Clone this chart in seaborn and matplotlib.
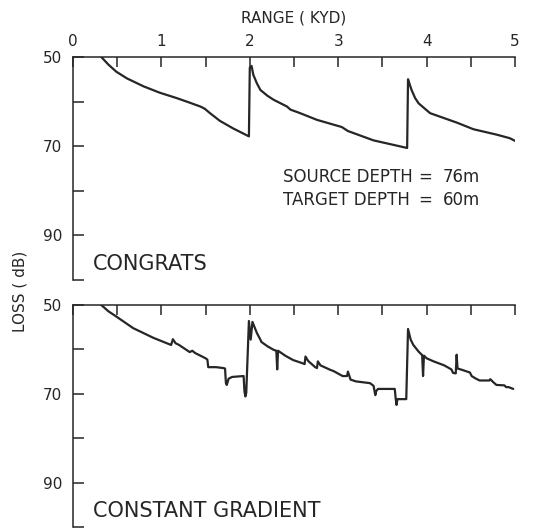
import numpy as np
import pandas as pd
import matplotlib
matplotlib.use("Agg")
import matplotlib.pyplot as plt
import seaborn as sns

# CONGRATS propagation loss vs range
congrats_range = [0.32, 0.40, 0.49, 0.61, 0.80, 0.98, 1.17, 1.30, 1.44, 1.49, 1.55,
                  1.66, 1.81, 1.99, 2.00, 2.02, 2.04, 2.08, 2.12, 2.20, 2.27, 2.42,
                  2.46, 2.57, 2.76, 3.04, 3.11, 3.40, 3.78, 3.79, 3.80, 3.83, 3.87,
                  3.91, 4.04, 4.34, 4.53, 4.79, 4.94, 5.00]
congrats_loss = [50.0, 51.7, 53.3, 54.8, 56.6, 58.0, 59.2, 60.1, 61.1, 61.6, 62.6,
                 64.3, 66.0, 67.8, 52.4, 52.0, 54.0, 55.9, 57.4, 58.7, 59.6, 61.1,
                 61.8, 62.6, 64.1, 65.7, 66.6, 68.7, 70.4, 55.0, 55.6, 57.4, 59.2,
                 60.4, 62.6, 64.7, 66.2, 67.4, 68.2, 68.8]

# constant gradient model
gradient_range = [0.32, 0.40, 0.49, 0.68, 0.91, 1.11, 1.13, 1.16, 1.20, 1.32, 1.35,
                  1.38, 1.50, 1.52, 1.53, 1.62, 1.70, 1.72, 1.73, 1.74, 1.76, 1.80,
                  1.93, 1.94, 1.95, 1.96, 1.99, 2.01, 2.03, 2.08, 2.12, 2.13, 2.20,
                  2.27, 2.30, 2.31, 2.32, 2.40, 2.49, 2.58, 2.62, 2.63, 2.66, 2.74,
                  2.76, 2.77, 2.80, 2.91, 2.95, 3.05, 3.10, 3.11, 3.14, 3.20, 3.36,
                  3.40, 3.42, 3.43, 3.45, 3.64, 3.65, 3.66, 3.67, 3.77, 3.79, 3.82,
                  3.85, 3.91, 3.95, 3.96, 3.97, 4.00, 4.08, 4.20, 4.28, 4.30, 4.33,
                  4.34, 4.35, 4.40, 4.49, 4.51, 4.55, 4.60, 4.71, 4.72, 4.75, 4.79,
                  4.88, 4.90, 4.93, 4.98]
gradient_loss = [50.0, 51.4, 52.6, 55.2, 57.4, 59.0, 57.7, 58.6, 59.0, 60.6, 60.3,
                 60.8, 62.0, 62.3, 64.0, 64.0, 64.2, 64.3, 67.6, 68.0, 66.6, 66.2,
                 66.0, 69.5, 70.6, 69.8, 53.6, 57.8, 53.8, 56.3, 57.8, 58.3, 59.3,
                 60.1, 60.3, 64.5, 60.3, 61.4, 62.4, 63.0, 63.3, 61.6, 62.6, 64.0,
                 64.2, 62.7, 63.6, 64.6, 64.9, 66.0, 66.0, 65.0, 66.8, 67.2, 67.6,
                 68.2, 70.3, 69.4, 68.9, 68.9, 71.0, 72.5, 71.2, 71.2, 55.4, 57.8,
                 59.0, 60.5, 61.3, 66.0, 61.4, 62.0, 62.7, 63.6, 64.5, 65.3, 65.4,
                 61.2, 64.3, 64.6, 65.2, 66.0, 66.5, 67.0, 67.0, 66.7, 67.3, 68.0,
                 68.1, 68.5, 68.5, 68.9]

range_ticks = [0, 1, 2, 3, 4, 5]
loss_ticks = [50, 70, 90]

sns.set_style("white")
plt.rcParams['font.family'] = ['DejaVu Sans']
ink = '#262626'

fig = plt.figure(figsize=(5.34, 5.31), dpi=100)
ax_top = fig.add_axes([0.1367, 0.4727, 0.8277, 0.4200])
ax_bot = fig.add_axes([0.1367, 0.0075, 0.8277, 0.4181])

x_minor = [i / 2 for i in range(11)]
y_all = list(range(50, 101, 10))

panels = [(ax_top, congrats_range, congrats_loss, 'CONGRATS'),
          (ax_bot, gradient_range, gradient_loss, 'CONSTANT GRADIENT')]

for ax, xs, ys, name in panels:
    df = pd.DataFrame({'range': xs, 'loss': ys})
    sns.lineplot(data=df, x='range', y='loss', sort=False, estimator=None,
                 color=ink, linewidth=1.6, ax=ax)
    ax.set_xlim(0, 5)
    ax.set_ylim(100, 50)
    ax.set_xlabel('')
    ax.set_ylabel('')
    for side in ['right', 'bottom']:
        ax.spines[side].set_visible(False)
    for side in ['top', 'left']:
        ax.spines[side].set_color(ink)
        ax.spines[side].set_linewidth(1.1)
    ax.set_xticks(x_minor)
    ax.set_xticklabels([str(int(v)) if v in range_ticks else '' for v in x_minor])
    ax.set_yticks(y_all)
    ax.set_yticklabels([str(v) if v in loss_ticks else '' for v in y_all])
    ax.tick_params(axis='y', direction='in', length=8, width=1.1, color=ink,
                   labelsize=11, labelcolor=ink, pad=8, left=True)
    ax.tick_params(axis='x', direction='in', length=7, width=1.1, color=ink,
                   top=True, bottom=False, labeltop=True, labelbottom=False,
                   labelsize=11, labelcolor=ink, pad=6)
    ax.text(0.045, 0.07, name, transform=ax.transAxes, fontsize=15,
            color=ink, ha='left', va='center')
    ax.patch.set_alpha(0)

ax_bot.tick_params(axis='x', labeltop=False)

ax_top.set_xlabel('RANGE ( KYD)', fontsize=11, color=ink, labelpad=8)
ax_top.xaxis.set_label_position('top')

# source / target depth note
ax_top.text(2.37, 76.8, 'SOURCE DEPTH', fontsize=12, color=ink, ha='left', va='center')
ax_top.text(2.37, 82.0, 'TARGET DEPTH', fontsize=12, color=ink, ha='left', va='center')
ax_top.text(3.98, 76.8, '=', fontsize=12, color=ink, ha='center', va='center')
ax_top.text(3.98, 82.0, '=', fontsize=12, color=ink, ha='center', va='center')
ax_top.text(4.18, 76.8, '76m', fontsize=12, color=ink, ha='left', va='center')
ax_top.text(4.18, 82.0, '60m', fontsize=12, color=ink, ha='left', va='center')

fig.text(0.037, 0.452, 'LOSS ( dB)', rotation=90, fontsize=11, color=ink,
         ha='center', va='center')

fig.savefig('out.png', dpi=100)
